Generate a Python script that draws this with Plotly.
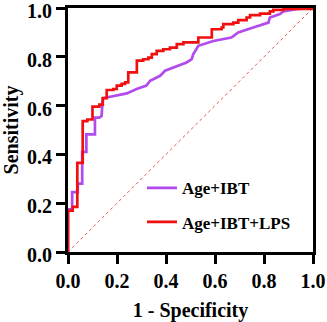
import plotly.graph_objects as go

# ROC data
fpr_ibt = [0, 0, 0.017, 0.017, 0.040, 0.040, 0.058, 0.058, 0.075, 0.075, 0.110, 0.110, 0.128, 0.137, 0.142,
           0.165, 0.240, 0.280, 0.320, 0.335, 0.376, 0.396, 0.444, 0.484, 0.505, 0.511, 0.532, 0.593,
           0.667, 0.695, 0.756, 0.818, 0.824, 0.865, 0.879, 0.930, 1.0]
tpr_ibt = [0, 0.175, 0.175, 0.245, 0.245, 0.280, 0.280, 0.410, 0.410, 0.482, 0.482, 0.551, 0.551, 0.557, 0.630,
           0.635, 0.650, 0.668, 0.682, 0.702, 0.722, 0.743, 0.763, 0.777, 0.790, 0.810, 0.845, 0.865,
           0.879, 0.900, 0.920, 0.940, 0.961, 0.975, 0.986, 0.995, 1.0]

fpr_lps = [0, 0, 0.019, 0.038, 0.060, 0.079, 0.100, 0.128, 0.142, 0.158, 0.185, 0.199, 0.219, 0.233,
           0.246, 0.281, 0.307, 0.328, 0.342, 0.362, 0.389, 0.416, 0.444, 0.471, 0.532, 0.587, 0.627,
           0.634, 0.675, 0.695, 0.729, 0.743, 0.784, 0.824, 0.838, 0.879, 1.0]
tpr_lps = [0, 0.169, 0.185, 0.365, 0.536, 0.543, 0.596, 0.604, 0.631, 0.664, 0.668, 0.682, 0.689, 0.695,
           0.736, 0.784, 0.790, 0.797, 0.811, 0.824, 0.831, 0.838, 0.852, 0.859, 0.879, 0.913, 0.920,
           0.934, 0.940, 0.950, 0.961, 0.971, 0.977, 0.986, 0.992, 0.996, 1.0]

ref_line = [0, 1]
tick_vals = [0, 0.2, 0.4, 0.6, 0.8, 1.0]
tick_text = ["0.0", "0.2", "0.4", "0.6", "0.8", "1.0"]

FONT = "Liberation Serif"
PURPLE = "#B24BEE"
RED = "#F01010"

fig = go.Figure()
fig.add_trace(go.Scatter(x=ref_line, y=ref_line, mode="lines",
                         line=dict(color="#F05050", width=1, dash="dot"),
                         showlegend=False, hoverinfo="skip"))
fig.add_trace(go.Scatter(x=fpr_ibt, y=tpr_ibt, mode="lines", name="Age+IBT",
                         line=dict(color=PURPLE, width=2.7), legendgroup="a"))
fig.add_trace(go.Scatter(x=fpr_lps, y=tpr_lps, mode="lines", name="Age+IBT+LPS",
                         line=dict(color=RED, width=2.7, shape="hv"), legendgroup="b"))

axis_common = dict(range=[0, 1], tickvals=tick_vals, ticktext=tick_text,
                   showgrid=False, zeroline=False, showline=True, linecolor="black",
                   linewidth=3, mirror=True, ticks="outside", ticklen=9, tickwidth=2.5,
                   tickcolor="black", layer="below traces", ticklabeloverflow="allow",
                   automargin=False,
                   tickfont=dict(family=FONT, size=20, color="black", weight="bold"))

fig.update_layout(
    width=327, height=322,
    margin=dict(l=68, r=14, t=8, b=70),
    paper_bgcolor="white", plot_bgcolor="white",
    font=dict(family=FONT, color="black", weight="bold"),
    xaxis=dict(**axis_common,
               title=dict(text="1 - Specificity", font=dict(family=FONT, size=20, weight="bold"), standoff=20)),
    yaxis=dict(**axis_common, ticklabelshift=3,
               title=dict(text="Sensitivity", font=dict(family=FONT, size=20, weight="bold"), standoff=11)),
    legend=dict(x=0.302, y=0.335, xanchor="left", yanchor="top", bgcolor="rgba(0,0,0,0)",
                font=dict(family=FONT, size=17, color="black", weight="bold"), tracegroupgap=9,
                traceorder="grouped"),
)

fig.write_html("out.html", config={"displayModeBar": False},
               post_script="document.body.style.margin='0';document.body.style.overflow='hidden';")
